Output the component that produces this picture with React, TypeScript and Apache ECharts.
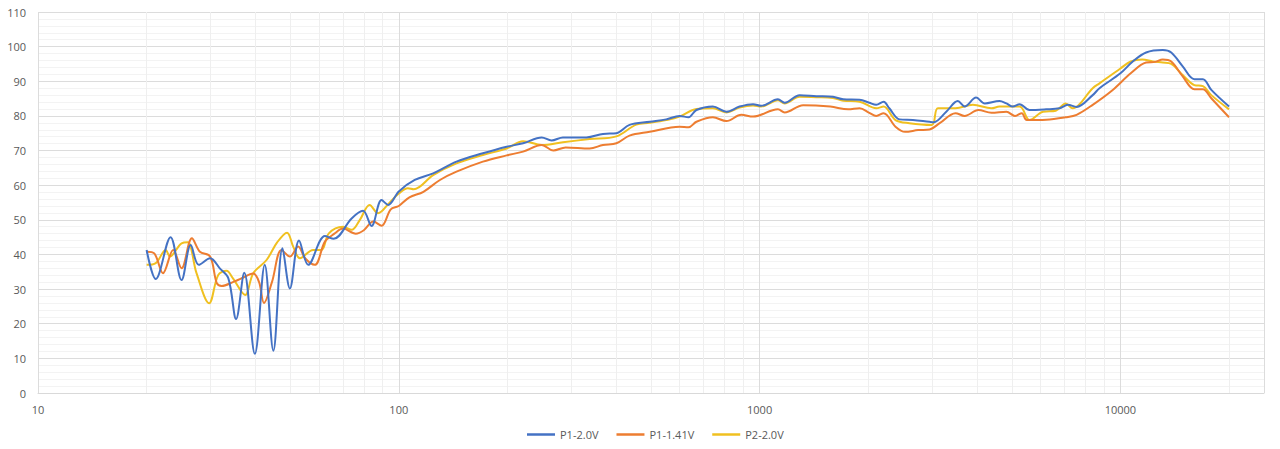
import React, { useEffect, useRef } from "react";
import * as echarts from "echarts";

const SERIES_NAMES = ["P1-2.0V", "P1-1.41V", "P2-2.0V"];
const COLORS = ["#4472C4", "#ED7D31", "#F0C020"];

const P1_20_FREQ = [20, 21.2, 23.3, 25, 26.5, 27.9, 30, 31.9, 33.7, 35.4, 37.3, 39.9, 42.5, 44.9, 47.6, 49.9, 52.9, 56.1, 62.4, 66, 74, 79.6, 84, 89.6, 93.4, 100, 110.7, 124.5, 144.5, 171, 199, 221, 249, 265, 285, 331, 368, 401, 436, 496, 551, 600, 635, 668, 742, 809, 880, 959, 1010, 1124, 1173, 1291, 1436, 1597, 1705, 1892, 2014, 2105, 2206, 2288, 2443, 2660, 2958, 3040, 3291, 3542, 3700, 3982, 4207, 4622, 4830, 5031, 5255, 5598, 6226, 6777, 7150, 7560, 8378, 8750, 10000, 10820, 11780, 13100, 13830, 14880, 16030, 16930, 17860, 20000];
const P1_20_DB = [41.3, 32.9, 45.0, 32.6, 42.7, 37.0, 38.9, 36.0, 33.1, 21.4, 34.7, 11.3, 37.0, 12.2, 41.8, 30.2, 44.0, 37.0, 45.3, 44.5, 50.4, 52.6, 48.2, 55.7, 54.3, 58.2, 61.5, 63.4, 66.8, 69.2, 71.1, 72.1, 73.8, 72.9, 73.8, 73.8, 74.8, 75.0, 77.4, 78.3, 79.0, 80.0, 79.6, 81.7, 82.7, 81.2, 82.7, 83.4, 82.9, 84.8, 83.8, 86.0, 85.7, 85.5, 84.8, 84.7, 83.8, 83.2, 84.1, 82.2, 79.0, 78.8, 78.3, 78.2, 81.2, 84.3, 82.7, 85.3, 83.6, 84.3, 83.6, 82.7, 83.4, 81.7, 81.9, 82.2, 83.2, 82.6, 86.0, 88.0, 92.3, 95.7, 98.3, 99.0, 98.3, 94.3, 90.6, 90.6, 87.5, 82.7];

const P1_141_FREQ = [20, 21, 22.2, 23.7, 25, 26.7, 28.1, 30, 31.3, 32.3, 34.8, 36.5, 39.5, 41, 42.3, 44.5, 47.3, 49.9, 52.6, 55, 58.5, 62.4, 66.3, 70, 76, 80, 85, 89.6, 95, 100, 107, 117, 130, 144.5, 171, 199, 221, 249, 268, 290, 338, 368, 401, 436, 496, 600, 635, 668, 742, 809, 890, 959, 1124, 1173, 1320, 1570, 1760, 1892, 2014, 2105, 2206, 2380, 2530, 2750, 2958, 3155, 3490, 3700, 4040, 4390, 4830, 5100, 5330, 5500, 6226, 7050, 7560, 8378, 9521, 10680, 11780, 12500, 13100, 13830, 14880, 16030, 16930, 17860, 20000];
const P1_141_DB = [40.8, 40.3, 34.6, 41.3, 36.0, 44.7, 40.8, 39.4, 31.7, 30.9, 32.1, 33.0, 34.5, 32.0, 26.0, 32.0, 41.3, 39.4, 42.3, 38.9, 37.0, 43.7, 46.0, 47.5, 46.0, 47.0, 49.5, 48.3, 53.0, 54.0, 56.5, 58.1, 61.5, 63.9, 66.8, 68.6, 69.7, 71.6, 70.0, 70.9, 70.6, 71.6, 72.1, 74.3, 75.4, 76.9, 76.7, 78.3, 79.6, 78.5, 80.3, 79.8, 81.9, 81.0, 83.1, 82.7, 81.9, 82.2, 80.9, 80.0, 80.8, 76.9, 75.4, 75.9, 76.1, 77.9, 80.8, 80.0, 81.7, 80.9, 81.2, 80.0, 80.8, 78.8, 78.9, 79.6, 80.3, 83.2, 87.5, 92.3, 95.4, 95.6, 96.3, 95.7, 91.4, 87.7, 87.7, 85.1, 79.6];

const P2_20_FREQ = [20, 21.2, 22.6, 23.2, 25, 26, 27.5, 29.8, 31.6, 33.3, 34.7, 37.5, 39.5, 43, 46, 49, 51, 53.2, 57.9, 61, 64, 70, 74, 78, 83, 87.6, 94, 100, 106, 110, 124.5, 144.5, 171, 199, 221, 249, 285, 338, 401, 455, 496, 551, 600, 668, 742, 809, 880, 959, 1010, 1124, 1173, 1291, 1436, 1597, 1705, 1892, 2105, 2206, 2380, 2600, 3000, 3120, 3490, 3900, 4390, 4622, 5255, 5598, 6100, 6620, 7050, 7370, 8378, 8750, 10000, 10680, 11500, 12300, 13100, 13830, 14880, 16030, 16930, 17860, 20000];
const P2_20_DB = [37.0, 37.5, 41.3, 39.4, 43.2, 43.5, 34.6, 25.9, 34.1, 35.3, 33.1, 28.3, 34.6, 38.4, 43.5, 46.3, 42.2, 38.9, 41.3, 41.3, 46.1, 48.0, 47.1, 50.0, 54.3, 51.9, 54.8, 57.6, 59.1, 58.8, 62.9, 66.3, 68.7, 70.6, 72.7, 71.6, 72.4, 73.3, 74.1, 77.5, 78.0, 78.8, 79.8, 82.0, 82.2, 81.0, 82.4, 83.0, 82.7, 84.5, 83.6, 85.5, 85.4, 85.2, 84.4, 84.1, 82.2, 82.7, 78.8, 77.9, 77.4, 82.2, 82.2, 83.2, 82.2, 82.7, 82.7, 78.8, 81.2, 81.5, 83.6, 82.2, 88.0, 89.4, 93.7, 95.7, 96.3, 95.7, 95.4, 95.0, 91.8, 88.9, 88.6, 86.0, 81.9];

const X_MIN = 10;
const X_MAX = 25000;
const Y_MIN = 0;
const Y_MAX = 110;
const Y_STEP = 10;
const MINOR_X_LINES = [20, 30, 40, 50, 60, 70, 80, 90, 200, 300, 400, 500, 600, 700, 800, 900, 2000, 3000, 4000, 5000, 6000, 7000, 8000, 9000, 20000];

const zip = (f: number[], v: number[]) => f.map((x, i) => [x, v[i]]);

export default function App() {
  const ref = useRef<HTMLDivElement>(null);
  useEffect(() => {
    if (!ref.current) return;
    const chart = echarts.init(ref.current, undefined, { renderer: "svg" });
    const datasets = [zip(P1_20_FREQ, P1_20_DB), zip(P1_141_FREQ, P1_141_DB), zip(P2_20_FREQ, P2_20_DB)];
    const font = "'Open Sans', 'Noto Sans', sans-serif";
    chart.setOption({
      animation: false,
      backgroundColor: "#ffffff",
      color: COLORS,
      grid: { left: 38, right: 16, top: 12, bottom: 56 },
      legend: {
        data: SERIES_NAMES,
        bottom: 4,
        left: 522,
        icon: "rect",
        itemWidth: 28,
        itemHeight: 2.5,
        itemGap: 18,
        textStyle: { color: "#595959", fontSize: 11, fontFamily: font },
      },
      xAxis: {
        type: "log",
        logBase: 10,
        min: X_MIN,
        max: X_MAX,
        axisLine: { show: true, lineStyle: { color: "#d9d9d9" } },
        axisTick: { show: false },
        axisLabel: {
          color: "#595959",
          fontSize: 11,
          fontFamily: font,
          margin: 11,
          showMaxLabel: false,
          formatter: (v: number) => String(Math.round(v)),
        },
        splitLine: { show: true, lineStyle: { color: "#dcdcdc" } },
      },
      yAxis: {
        type: "value",
        min: Y_MIN,
        max: Y_MAX,
        interval: Y_STEP,
        axisLine: { show: false },
        axisTick: { show: false },
        axisLabel: { color: "#595959", fontSize: 11, fontFamily: font, margin: 12 },
        splitLine: { show: true, lineStyle: { color: "#dcdcdc" } },
        minorTick: { show: false, splitNumber: 5 },
        minorSplitLine: { show: true, lineStyle: { color: "#f3f3f3" } },
      },
      series: SERIES_NAMES.map((name, i) => ({
        name,
        type: "line",
        data: datasets[i],
        smooth: 0.35,
        showSymbol: false,
        symbol: "none",
        lineStyle: { width: 2, color: COLORS[i] },
        z: 3 - i,
        markLine:
          i === 0
            ? {
                silent: true,
                symbol: ["none", "none"],
                label: { show: false },
                lineStyle: { color: "#efefef", width: 1, type: "solid" },
                data: MINOR_X_LINES.map((v) => ({ xAxis: v })),
                z: 0,
              }
            : undefined,
      })),
    });
    return () => chart.dispose();
  }, []);
  return (
    <div
      ref={ref}
      style={{ position: "fixed", left: 0, top: 0, width: 1280, height: 449, background: "#fff" }}
    />
  );
}
